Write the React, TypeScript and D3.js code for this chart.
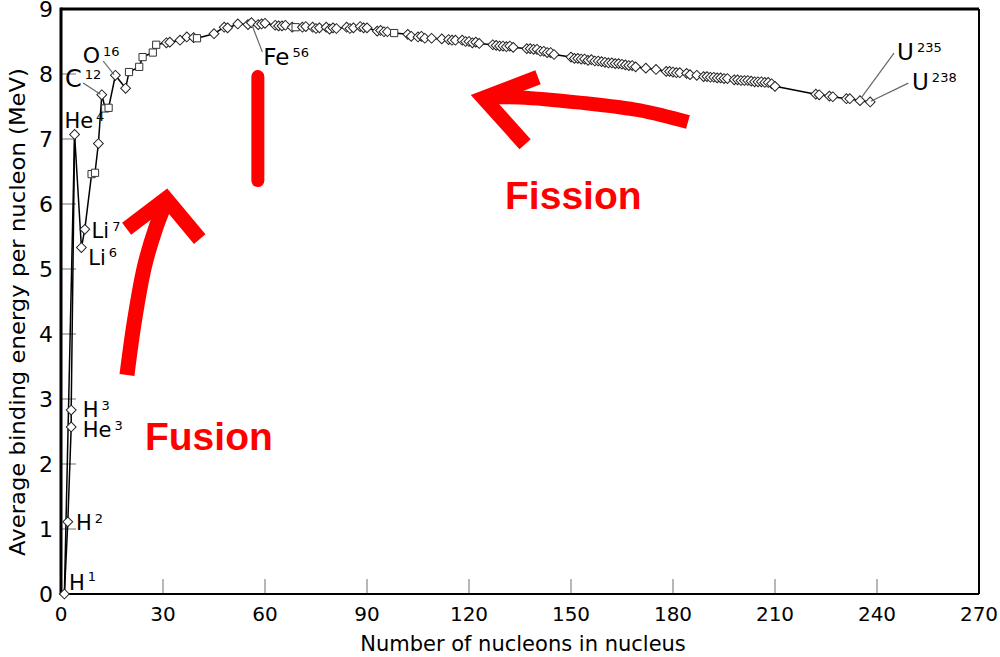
import * as d3 from "d3";

const massNumbers = [
  1, 2, 3, 3, 4, 6, 7, 9, 10, 11, 12, 13, 14, 16, 19, 20, 23, 24, 27, 28,
  31, 32, 35, 37, 39, 40, 45, 48, 49, 52, 55, 56, 58, 59, 60, 63, 64, 65, 66, 68,
  69, 71, 72, 74, 75, 76, 78, 79, 80, 81, 84, 85, 86, 88, 89, 90, 93, 94, 95, 96,
  98, 102, 103, 105, 106, 107, 109, 112, 114, 115, 116, 118, 119, 120, 121, 122, 123, 127, 128, 129,
  130, 131, 132, 133, 137, 138, 139, 140, 141, 142, 143, 144, 145, 150, 151, 152, 153, 154, 155, 156,
  157, 158, 159, 160, 161, 162, 163, 164, 165, 166, 167, 168, 169, 172, 175, 178, 179, 180, 181, 182,
  184, 185, 187, 189, 190, 191, 192, 193, 194, 195, 196, 198, 199, 200, 201, 202, 203, 204, 205, 206,
  207, 208, 209, 210, 222, 223, 226, 227, 231, 232, 235, 238,
];

const bindingEnergies = [
  0, 1.11, 2.57, 2.83, 7.07, 5.33, 5.61, 6.46, 6.48, 6.93, 7.68, 7.47, 7.48, 7.98, 7.78, 8.03, 8.11, 8.26, 8.33, 8.45,
  8.48, 8.49, 8.52, 8.57, 8.56, 8.55, 8.62, 8.72, 8.71, 8.77, 8.76, 8.79, 8.76, 8.77, 8.78, 8.75, 8.74, 8.74, 8.75, 8.72,
  8.72, 8.72, 8.73, 8.72, 8.7, 8.71, 8.72, 8.69, 8.71, 8.7, 8.72, 8.7, 8.71, 8.73, 8.71, 8.71, 8.66, 8.67, 8.65, 8.65,
  8.63, 8.61, 8.58, 8.57, 8.58, 8.55, 8.55, 8.54, 8.53, 8.52, 8.52, 8.52, 8.5, 8.5, 8.48, 8.49, 8.47, 8.45, 8.44, 8.43,
  8.43, 8.42, 8.43, 8.41, 8.39, 8.39, 8.38, 8.38, 8.35, 8.35, 8.33, 8.33, 8.3, 8.26, 8.24, 8.24, 8.23, 8.23, 8.21, 8.22,
  8.2, 8.2, 8.19, 8.18, 8.17, 8.17, 8.16, 8.16, 8.15, 8.14, 8.13, 8.13, 8.11, 8.09, 8.07, 8.04, 8.04, 8.03, 8.02, 8.02,
  8.01, 7.99, 7.98, 7.96, 7.96, 7.95, 7.95, 7.94, 7.94, 7.93, 7.93, 7.91, 7.91, 7.9, 7.9, 7.9, 7.89, 7.88, 7.88, 7.88,
  7.87, 7.87, 7.85, 7.81, 7.69, 7.68, 7.66, 7.65, 7.62, 7.62, 7.59, 7.57,
];

// d = diamond, s = square
const markerKinds =
  "dddddddssddssddsssss" +
  "dddddsdddddddddddddds" +
  "ddddddddddddddddddd" +
  "sdddddddddddddddddd" +
  "dddddddddddddddddddd" +
  "dddddddddddddddddddd" +
  "dddddddddddddddddddd" +
  "dddddddddddd";

// extra connector from H1 straight up to He4
const extraLink = [0, 4];

const yTicks = [0, 1, 2, 3, 4, 5, 6, 7, 8, 9];
const xTicks = [0, 30, 60, 90, 120, 150, 180, 210, 240, 270];

const isotopeLabels = [
  { name: "H", sup: "1", a: 2.35, e: 0.06, size: 21, supDy: -9 },
  { name: "H", sup: "2", a: 4.4, e: 0.98, size: 21, supDy: -7 },
  { name: "H", sup: "3", a: 6.4, e: 2.72, size: 21, supDy: -7 },
  { name: "He", sup: "3", a: 6.4, e: 2.41, size: 21, supDy: -7 },
  { name: "He", sup: "4", a: 1.0, e: 7.17, size: 21, supDy: -7 },
  { name: "Li", sup: "7", a: 9.0, e: 5.48, size: 21, supDy: -7 },
  { name: "Li", sup: "6", a: 8.0, e: 5.06, size: 21, supDy: -8 },
  { name: "C", sup: "12", a: 1.2, e: 7.8, size: 24, supDy: -8 },
  { name: "O", sup: "16", a: 6.4, e: 8.17, size: 22, supDy: -7 },
  { name: "Fe", sup: "56", a: 59.5, e: 8.14, size: 23, supDy: -8 },
  { name: "U", sup: "235", a: 245.9, e: 8.215, size: 23, supDy: -8 },
  { name: "U", sup: "238", a: 250.3, e: 7.75, size: 23, supDy: -8 },
];

const leaderLines = [
  [[6.5, 7.86], [11.6, 7.69]],
  [[12.4, 8.2], [15.6, 7.99]],
  [[56.2, 8.75], [59.2, 8.34]],
  [[235.3, 7.63], [245, 8.32]],
  [[238.2, 7.58], [249.2, 7.86]],
];

const fusionShaft = [[19.4, 3.37], [21.6, 4.2], [24.6, 5.05], [28, 5.65], [30.6, 6.0]];
const fusionHead = [[19.3, 5.62], [30.9, 6.08], [40.8, 5.46]];
const ironBar = [[57.9, 7.96], [57.9, 6.36]];
const fissionShaft = [[184.4, 7.26], [170.3, 7.44], [152.6, 7.56], [135, 7.64], [125.5, 7.64]];
const fissionHead = [[140.3, 7.95], [124.3, 7.63], [136.5, 6.92]];

const annotations = [
  { text: "Fusion", a: 24.7, e: 2.22 },
  { text: "Fission", a: 130.6, e: 5.92 },
];

const W = 1000;
const H = 657;

export default function App() {
  const x = d3.scaleLinear().domain([0, 270]).range([61, 979]);
  const y = d3.scaleLinear().domain([0, 9]).range([594, 9]);

  const idx = massNumbers.map((_, i) => i);
  const dataLine = d3
    .line<number>()
    .x((i) => x(massNumbers[i]))
    .y((i) => y(bindingEnergies[i]));

  const pt = d3
    .line<number[]>()
    .x((d) => x(d[0]))
    .y((d) => y(d[1]));
  const curvy = d3
    .line<number[]>()
    .x((d) => x(d[0]))
    .y((d) => y(d[1]))
    .curve(d3.curveCatmullRom);

  const diamond = d3.symbol().type(d3.symbolSquare).size(48)()!;
  const square = d3.symbol().type(d3.symbolSquare).size(52)()!;

  const font = "'DejaVu Sans', sans-serif";

  return (
    <svg
      width={W}
      height={H}
      style={{ position: "absolute", left: 0, top: 0, background: "#fff" }}
    >
      <rect width={W} height={H} fill="#fff" />

      {/* ticks */}
      {yTicks.map((t) => (
        <g key={"y" + t}>
          <line x1={x(0)} x2={x(0) + 15} y1={y(t)} y2={y(t)} stroke="#888" strokeWidth={1.2} />
          <text
            x={53}
            y={y(t)}
            dy="0.37em"
            textAnchor="end"
            fontFamily={font}
            fontSize={22}
            fill="#000"
          >
            {t}
          </text>
        </g>
      ))}
      {xTicks.map((t) => (
        <g key={"x" + t}>
          <line x1={x(t)} x2={x(t)} y1={y(0)} y2={y(0) - 15} stroke="#888" strokeWidth={1.2} />
          <text x={x(t)} y={621} textAnchor="middle" fontFamily={font} fontSize={20} fill="#000">
            {t}
          </text>
        </g>
      ))}

      {/* frame */}
      <line x1={x(0)} x2={x(270)} y1={y(9)} y2={y(9)} stroke="#000" strokeWidth={3} />
      <line x1={x(0)} x2={x(0)} y1={y(9) - 1.5} y2={y(0) + 1} stroke="#000" strokeWidth={3} />
      <line x1={x(270)} x2={x(270)} y1={y(9)} y2={y(0)} stroke="#000" strokeWidth={2} />
      <line x1={x(0)} x2={x(270)} y1={y(0)} y2={y(0)} stroke="#000" strokeWidth={2} />

      {/* axis titles */}
      <text x={523} y={651} textAnchor="middle" fontFamily={font} fontSize={21} fill="#000">
        Number of nucleons in nucleus
      </text>
      <text
        transform={`translate(25,312) rotate(-90)`}
        textAnchor="middle"
        fontFamily={font}
        fontSize={21}
        fill="#000"
        textLength={488}
        lengthAdjust="spacingAndGlyphs"
      >
        Average binding energy per nucleon (MeV)
      </text>

      {/* data */}
      <path d={dataLine(extraLink) || ""} fill="none" stroke="#000" strokeWidth={1.5} />
      <path d={dataLine(idx) || ""} fill="none" stroke="#000" strokeWidth={1.5} />
      {idx.map((i) => (
        <path
          key={i}
          d={markerKinds[i] === "s" ? square : diamond}
          transform={`translate(${x(massNumbers[i])},${y(bindingEnergies[i])})${
            markerKinds[i] === "s" ? "" : " rotate(45)"
          }`}
          fill="#fff"
          stroke={markerKinds[i] === "s" ? "#333" : "#222"}
          strokeWidth={1}
        />
      ))}

      {/* leader lines */}
      {leaderLines.map((l, i) => (
        <path key={i} d={pt(l) || ""} stroke="#666" strokeWidth={1.2} fill="none" />
      ))}

      {/* isotope labels */}
      {isotopeLabels.map((l, i) => (
        <text key={i} x={x(l.a)} y={y(l.e)} fontFamily={font} fontSize={l.size} fill="#000">
          {l.name}
          <tspan dx={3} dy={l.supDy} fontSize={13}>
            {l.sup}
          </tspan>
        </text>
      ))}

      {/* red annotations */}
      <g stroke="#ff0000" fill="none">
        <path d={curvy(fusionShaft) || ""} strokeWidth={15} strokeLinecap="butt" />
        <path d={pt(fusionHead) || ""} strokeWidth={15} strokeLinejoin="miter" strokeLinecap="butt" />
        <path d={pt(ironBar) || ""} strokeWidth={13} strokeLinecap="round" />
        <path d={curvy(fissionShaft) || ""} strokeWidth={14} strokeLinecap="butt" />
        <path d={pt(fissionHead) || ""} strokeWidth={15} strokeLinejoin="miter" strokeLinecap="butt" />
      </g>
      {annotations.map((a) => (
        <text
          key={a.text}
          x={x(a.a)}
          y={y(a.e)}
          fontFamily="'Liberation Sans', Arial, sans-serif"
          fontWeight="bold"
          fontSize={39}
          fill="#ff0000"
        >
          {a.text}
        </text>
      ))}
    </svg>
  );
}
